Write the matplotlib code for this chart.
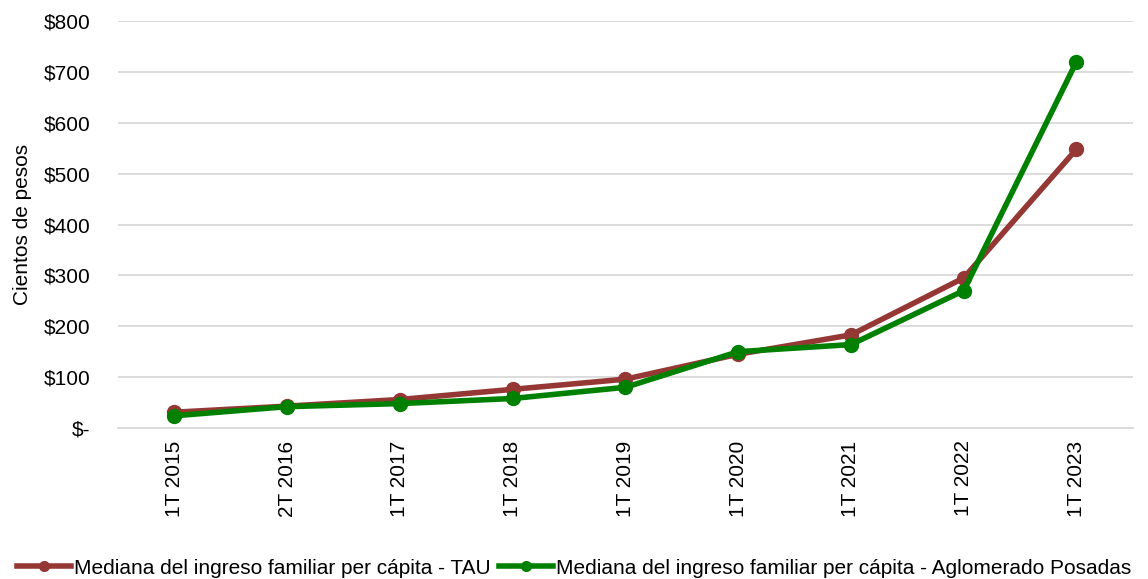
import numpy as np
import matplotlib
matplotlib.use("Agg")
import matplotlib.pyplot as plt
from matplotlib.ticker import FuncFormatter

plt.rcParams['font.family'] = ['Liberation Sans', 'DejaVu Sans']

# Datos (cientos de pesos)
periodos = ['1T 2015', '2T 2016', '1T 2017', '1T 2018', '1T 2019',
            '1T 2020', '1T 2021', '1T 2022', '1T 2023']
tau = [31, 43, 56, 76, 96, 145, 183, 295, 548]
posadas = [24, 42, 48, 58, 80, 150, 164, 270, 720]

x = np.arange(len(periodos))

fig = plt.figure(figsize=(11.48, 5.79), dpi=100)
ax = fig.add_axes([0.1028, 0.2608, 0.884, 0.7029])

ax.plot(x, tau, '-o', color='#953735', lw=4, ms=10,
        label='Mediana del ingreso familiar per cápita - TAU')
ax.plot(x, posadas, '-o', color='#008000', lw=4, ms=10,
        label='Mediana del ingreso familiar per cápita - Aglomerado Posadas')

ax.set_xlim(-0.5, len(periodos) - 0.5)
ax.set_ylim(0, 800)
ax.set_yticks(np.arange(0, 801, 100))
ax.yaxis.set_major_formatter(FuncFormatter(lambda v, p: '$-' if v == 0 else '${:.0f}'.format(v)))
ax.set_xticks(x)
ax.set_xticklabels(periodos, rotation=90)
ax.tick_params(axis='y', length=0, pad=20, labelsize=15)
ax.tick_params(axis='x', length=0, pad=9, labelsize=15)
ax.grid(axis='y', color='#d9d9d9', lw=1.3)
ax.set_axisbelow(True)
for s in ['top', 'right', 'left']:
    ax.spines[s].set_visible(False)
ax.spines['bottom'].set_color('#d9d9d9')
ax.spines['bottom'].set_linewidth(1.3)

ax.set_ylabel('Cientos de pesos', fontsize=15, labelpad=8)

leg = fig.legend(loc='lower center', bbox_to_anchor=(0.5, -0.03), ncol=2, frameon=False,
                 fontsize=15, handlelength=2.6, handletextpad=0.15, columnspacing=0.4,
                 markerscale=0.7)

fig.savefig('out.png', dpi=100)
